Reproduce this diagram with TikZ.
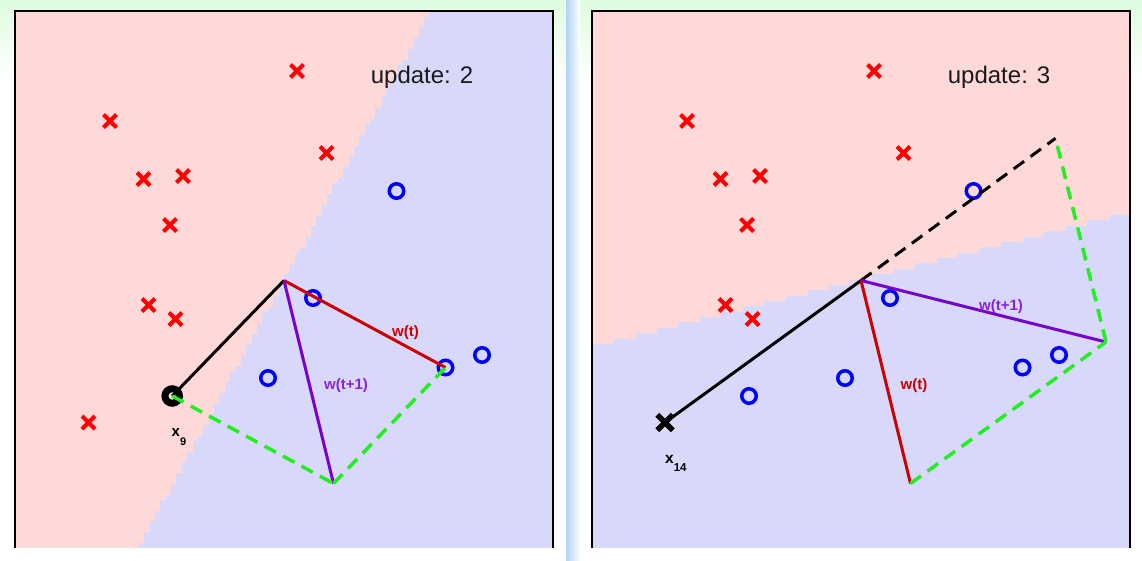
\documentclass[tikz,border=0pt]{standalone}
\usepackage{fontspec}
\setmainfont{Liberation Sans}
\usetikzlibrary{shapes.misc}
\definecolor{pinkbg}{RGB}{255,216,216}
\definecolor{bluebg}{RGB}{216,216,250}
\definecolor{greenbg}{RGB}{222,252,222}
\definecolor{stripblue}{RGB}{176,212,244}
\definecolor{ptred}{RGB}{255,0,0}
\definecolor{ptblue}{RGB}{0,0,255}
\definecolor{wred}{RGB}{204,0,0}
\definecolor{wpurple}{RGB}{122,0,204}
\definecolor{lblpurple}{RGB}{136,34,221}
\definecolor{dgreen}{RGB}{34,238,34}
\definecolor{txtdark}{RGB}{26,26,26}
\begin{document}
\begin{tikzpicture}[x=1pt,y=-1pt,
  redx/.style={cross out,draw=ptred,line width=4pt,minimum size=9pt,inner sep=0pt},
  blackx/.style={cross out,draw=black,line width=5.5pt,minimum size=10pt,inner sep=0pt},
  blueo/.style={circle,draw=ptblue,line width=3.5pt,minimum size=14.5pt,inner sep=0pt},
  blacko/.style={circle,draw=black,line width=7pt,minimum size=14.5pt,inner sep=0pt},
  frameline/.style={draw=black,line width=2pt},
  vecblack/.style={draw=black,line width=3pt},
  vecred/.style={draw=wred,line width=3pt},
  vecpurple/.style={draw=wpurple,line width=3pt},
  dashgreen/.style={draw=dgreen,line width=3.5pt,dash pattern=on 13pt off 8pt},
  dashblack/.style={draw=black,line width=3pt,dash pattern=on 13pt off 8pt},
  updlabel/.style={font=\fontsize{24}{28}\selectfont,text=txtdark,inner sep=0pt},
  wlabel/.style={font=\bfseries\fontsize{15}{17}\selectfont,inner sep=0pt},
  xlabel/.style={font=\bfseries\fontsize{15}{17}\selectfont,inner sep=0pt,anchor=base west}
]
\useasboundingbox (0,0) rectangle (1142,560);
% background
\fill[white] (0,0) rectangle (1142,560);
\shade[top color=greenbg,bottom color=white] (0,0) rectangle (1142,80);
\shade[left color=stripblue,right color=white] (566,0) rectangle (580,560);

% ---------------- left panel ----------------
\fill[bluebg] (15,11) rectangle (553,548);
\foreach \i in {0,...,99} {
  \pgfmathsetmacro{\ya}{11+5.37*\i}
  \pgfmathsetmacro{\yb}{min(\ya+5.67,548)}
  \pgfmathsetmacro{\xb}{430-0.5438*(\ya+2.685-11)}
  \pgfmathsetmacro{\xs}{15+5.38*round((\xb-15)/5.38)}
  \fill[pinkbg] (15,\ya) rectangle (\xs,\yb);
}
\draw[frameline] (15,548) -- (15,11) -- (553,11) -- (553,548);

\node[redx] (a1) at (297,71) {};
\node[redx] (a2) at (110,121) {};
\node[redx] (a3) at (143.5,179) {};
\node[redx] (a4) at (183,176) {};
\node[redx] (a5) at (326.5,153) {};
\node[redx] (a6) at (170,225) {};
\node[redx] (a7) at (148.5,305) {};
\node[redx] (a8) at (175.5,319) {};
\node[redx] (a9) at (88.5,422.5) {};
\node[blueo] (b1) at (396.5,191) {};
\node[blueo] (b2) at (313,298) {};
\node[blueo] (b3) at (268,378) {};
\node[blueo] (b4) at (445.5,367.5) {};
\node[blueo] (b5) at (482,355) {};
\node[blacko] (x9) at (172.2,396) {};

\coordinate (o1) at (284,280.5);
\coordinate (v1) at (333.5,483.5);
\draw[vecblack] (x9.center) -- (o1);
\draw[vecred] (o1) -- (b4.center);
\draw[vecpurple] (o1) -- (v1);
\draw[dashgreen] (x9.center) -- (v1);
\draw[dashgreen] (v1) -- (b4.center);

\node[updlabel] (u1) at (422,77) {update: 2};
\node[wlabel,text=wred] (lw1) at (405.5,333) {w(t)};
\node[wlabel,text=lblpurple] (lw2) at (346,385.5) {w(t+1)};
\node[xlabel] (lx9) at (171.5,436) {x\raisebox{-9pt}{\fontsize{11}{13}\selectfont 9}};

% ---------------- right panel ----------------
\fill[bluebg] (592,11) rectangle (1130,548);
\foreach \j in {0,...,99} {
  \pgfmathsetmacro{\xa}{592+5.38*\j}
  \pgfmathsetmacro{\xe}{min(\xa+5.68,1130)}
  \pgfmathsetmacro{\yc}{347-0.2491*(\xa+2.69-592)}
  \pgfmathsetmacro{\ys}{11+5.37*round((\yc-11)/5.37)}
  \fill[pinkbg] (\xa,11) rectangle (\xe,\ys);
}
\draw[frameline] (592,548) -- (592,11) -- (1130,11) -- (1130,548);

\node[redx] (c1) at (874,71) {};
\node[redx] (c2) at (687,121) {};
\node[redx] (c3) at (720.5,179) {};
\node[redx] (c4) at (760,176) {};
\node[redx] (c5) at (903.5,153) {};
\node[redx] (c6) at (747,225) {};
\node[redx] (c7) at (725.5,305) {};
\node[redx] (c8) at (752.5,319) {};
\node[blueo] (d1) at (973.5,191) {};
\node[blueo] (d2) at (890,298) {};
\node[blueo] (d3) at (845,378) {};
\node[blueo] (d4) at (1022.5,367.5) {};
\node[blueo] (d5) at (1059,355) {};
\node[blueo] (d6) at (749,396) {};
\node[blackx] (x14) at (665,422.5) {};

\coordinate (o2) at (861,280.5);
\coordinate (e2) at (1055.5,138.3);
\coordinate (r2) at (910.5,483.5);
\coordinate (p2) at (1106,342);
\draw[vecblack] (x14.center) -- (o2);
\draw[dashblack] (o2) -- (e2);
\draw[vecred] (o2) -- (r2);
\draw[vecpurple] (o2) -- (p2);
\draw[dashgreen] (r2) -- (p2);
\draw[dashgreen] (p2) -- (e2);

\node[updlabel] (u2) at (999,77) {update: 3};
\node[wlabel,text=wred] (rw1) at (914,385.5) {w(t)};
\node[wlabel,text=lblpurple] (rw2) at (1001,307) {w(t+1)};
\node[xlabel,font=\bfseries\fontsize{15.5}{17}\selectfont] (lx14) at (665,463.3) {x\raisebox{-7.7pt}{\fontsize{11.5}{13}\selectfont 14}};
\end{tikzpicture}
\end{document}
